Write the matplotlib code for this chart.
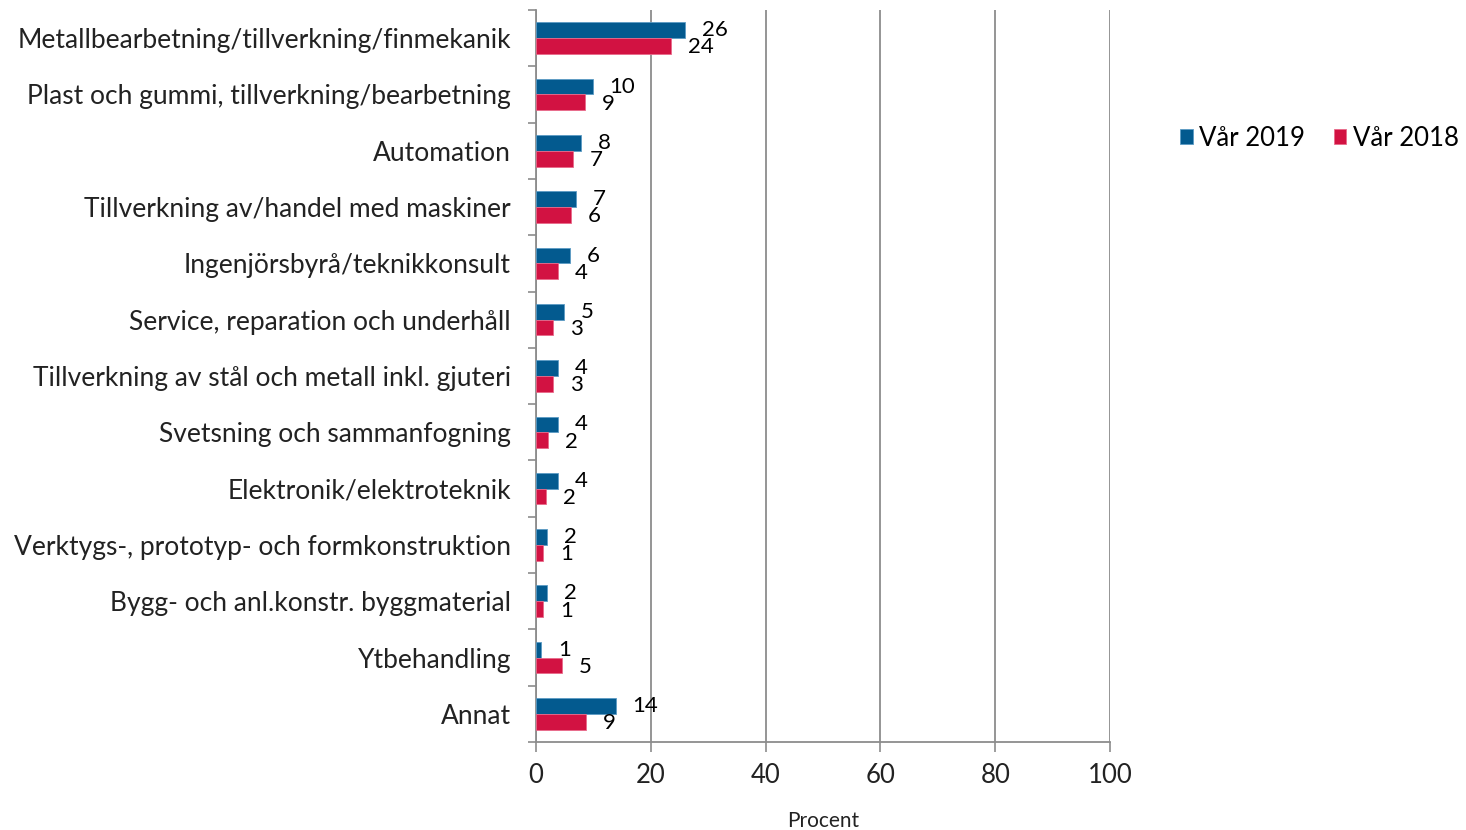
import numpy as np
import matplotlib
matplotlib.use("Agg")
import matplotlib.pyplot as plt

plt.rcParams['font.family'] = ['Lato', 'DejaVu Sans']

categories = ["Metallbearbetning/tillverkning/finmekanik",
              "Plast och gummi, tillverkning/bearbetning",
              "Automation",
              "Tillverkning av/handel med maskiner",
              "Ingenjörsbyrå/teknikkonsult",
              "Service, reparation och underhåll",
              "Tillverkning av stål och metall inkl. gjuteri",
              "Svetsning och sammanfogning",
              "Elektronik/elektroteknik",
              "Verktygs-, prototyp- och formkonstruktion",
              "Bygg- och anl.konstr. byggmaterial",
              "Ytbehandling",
              "Annat"]
var2019 = [26.0, 9.9, 7.9, 6.9, 5.9, 4.9, 3.9, 3.9, 3.9, 1.9, 1.9, 0.9, 13.9]
var2018 = [23.5, 8.5, 6.5, 6.1, 3.8, 3.0, 3.0, 2.1, 1.8, 1.3, 1.3, 4.6, 8.7]
lab2019 = [26, 10, 8, 7, 6, 5, 4, 4, 4, 2, 2, 1, 14]
lab2018 = [24, 9, 7, 6, 4, 3, 3, 2, 2, 1, 1, 5, 9]
xticks = [0, 20, 40, 60, 80, 100]

blue = '#035A8F'
red = '#D21242'
grey = '#8c8c8c'

fig = plt.figure(figsize=(14.66, 8.3), dpi=100)
ax = fig.add_axes([536/1466, 1 - 742/830, (1110-536)/1466, (742-10)/830])

y = np.arange(len(categories))
h = 0.28
b1 = ax.barh(y - h/2, var2019, height=h, color=blue, edgecolor='#5b9bc4', linewidth=0.6, label='Vår 2019', zorder=3)
b2 = ax.barh(y + h/2, var2018, height=h, color=red, edgecolor='#e86a8a', linewidth=0.6, label='Vår 2018', zorder=3)

# data labels, a bit right of each bar end
for i in range(len(categories)):
    ax.annotate(str(lab2019[i]), (var2019[i], y[i] - h/2), xytext=(12, 0), textcoords='offset points',
                ha='left', va='center', fontsize=16, color='black')
    ax.annotate(str(lab2018[i]), (var2018[i], y[i] + h/2), xytext=(12, -1), textcoords='offset points',
                ha='left', va='center', fontsize=16, color='black')

ax.set_xlim(0, 100)
ax.set_ylim(len(categories) - 0.5, -0.5)
ax.set_xticks(xticks)
ax.set_xticklabels([str(t) for t in xticks], fontsize=18.5, color='#222222')
ax.set_yticks(y)
ax.set_yticklabels(categories, fontsize=19, color='#222222')
ax.set_yticks(np.arange(len(categories) + 1) - 0.5, minor=True)
ax.tick_params(axis='y', which='major', length=0, pad=18)
ax.tick_params(axis='y', which='minor', length=6, color=grey, width=1.2)
ax.tick_params(axis='x', length=7, color=grey, width=1.2, pad=8)

ax.grid(axis='x', color=grey, linewidth=1.3, zorder=0)
for s in ['top', 'right']:
    ax.spines[s].set_visible(False)
for s in ['left', 'bottom']:
    ax.spines[s].set_color(grey)
    ax.spines[s].set_linewidth(1.3)

ax.set_xlabel('Procent', fontsize=15, color='#222222', labelpad=17)

fig.legend(handles=[b1, b2], loc='center left', bbox_to_anchor=(1180/1466, 1 - 138/830),
           ncol=2, frameon=False, fontsize=18.5, handlelength=0.5, handleheight=0.5,
           handletextpad=0.25, columnspacing=1.1, borderpad=0, borderaxespad=0)

fig.savefig('out.png', dpi=100)
